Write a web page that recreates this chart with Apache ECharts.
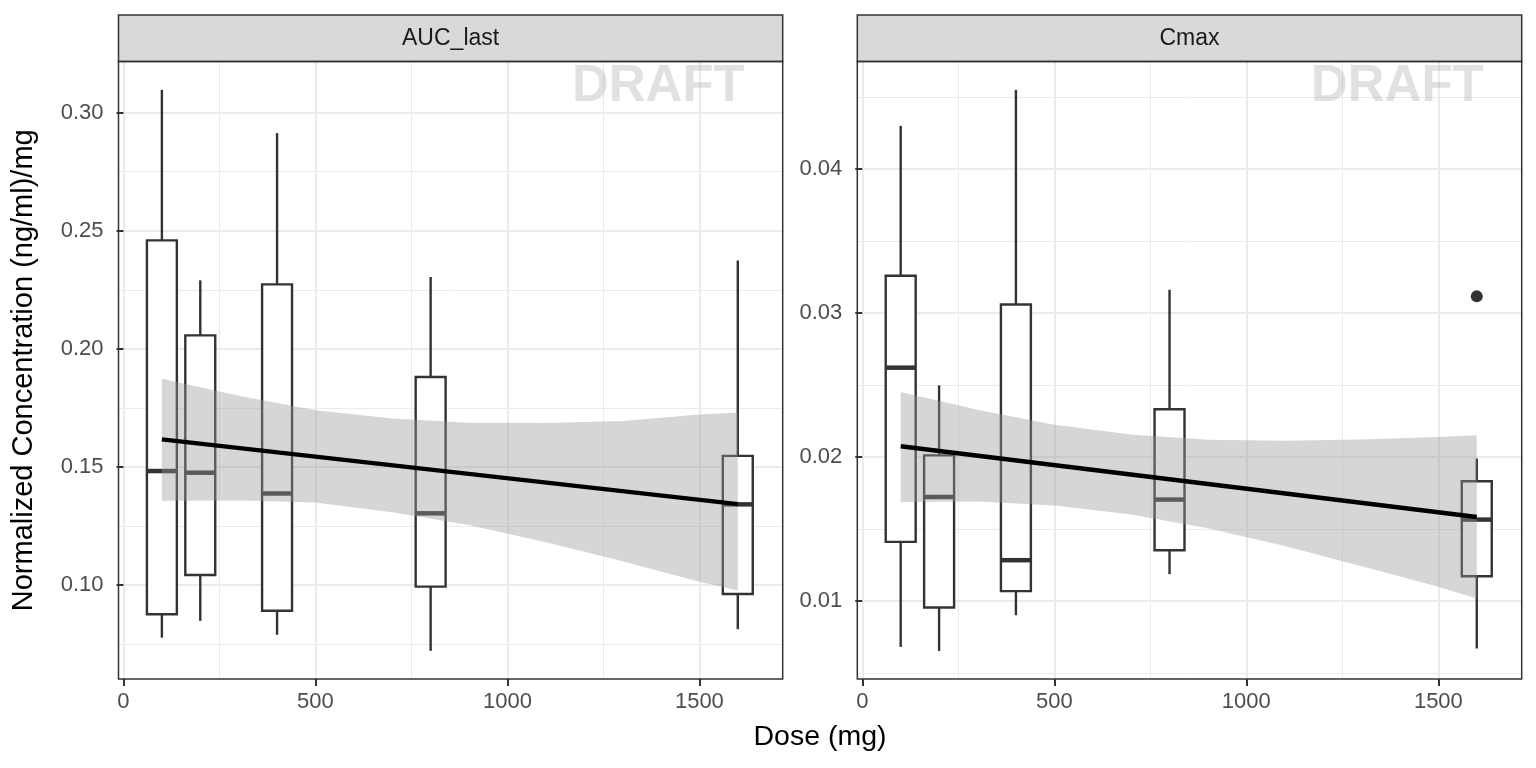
<!DOCTYPE html>
<html>
<head>
    <meta charset="utf-8" />
    <title>Dose normalized exposure</title>
    <script src="https://cdn.jsdelivr.net/npm/echarts@6/dist/echarts.min.js"></script>
    <style type="text/css">
        html, body { margin: 0; padding: 0; background: #ffffff; }
        #chart { width: 1536px; height: 768px; }
    </style>
</head>
<body>
    <div id="chart"></div>
    <script>
        // dose groups (mg)
        const doses = [100, 200, 400, 800, 1600];

        // box stats per dose: [lower whisker, Q1, median, Q3, upper whisker]
        const aucStats = [
            [0.0778, 0.0877, 0.1483, 0.2459, 0.3096],
            [0.0849, 0.1043, 0.1476, 0.2057, 0.2290],
            [0.0790, 0.0892, 0.1388, 0.2273, 0.2913],
            [0.0722, 0.0994, 0.1304, 0.1881, 0.2304],
            [0.0814, 0.0963, 0.1342, 0.1547, 0.2374]
        ];
        const cmaxStats = [
            [0.00680, 0.01409, 0.02619, 0.03257, 0.04298],
            [0.00652, 0.00953, 0.01721, 0.02010, 0.02496],
            [0.00900, 0.01067, 0.01282, 0.03058, 0.04548],
            [0.01185, 0.01351, 0.01703, 0.02330, 0.03160],
            [0.00669, 0.01171, 0.01564, 0.01830, 0.01988]
        ];
        const cmaxOutliers = [[1600, 0.03114]];

        // linear fit and its confidence band
        const fitX = [100, 1600];
        const aucFit = [0.1617, 0.1343];
        const cmaxFit = [0.02073, 0.01582];

        const ribX = [100, 300, 500, 700, 900, 1100, 1300, 1500, 1600];
        const aucRibLo = [0.1357, 0.1358, 0.1350, 0.1309, 0.1255, 0.1182, 0.1101, 0.1015, 0.0977];
        const aucRibHi = [0.1874, 0.1802, 0.1740, 0.1705, 0.1687, 0.1686, 0.1695, 0.1722, 0.1731];
        const cmaxRibLo = [0.01686, 0.01690, 0.01662, 0.01600, 0.01503, 0.01380, 0.01240, 0.01097, 0.01016];
        const cmaxRibHi = [0.02450, 0.02326, 0.02222, 0.02154, 0.02119, 0.02112, 0.02120, 0.02137, 0.02149];

        // ticks
        const xTicks = [0, 500, 1000, 1500];
        const xMinor = [250, 750, 1250];
        const aucTicks = [0.10, 0.15, 0.20, 0.25, 0.30];
        const aucMinor = [0.075, 0.125, 0.175, 0.225, 0.275];
        const cmaxTicks = [0.01, 0.02, 0.03, 0.04];
        const cmaxMinor = [0.005, 0.015, 0.025, 0.035, 0.045];

        const panelNames = ['AUC_last', 'Cmax'];

        const FONT = '"Liberation Sans", Arial, Helvetica, sans-serif';
        const BOX_HALF = 39;   // half box width in mg
        const panels = [
            { left: 118.5, top: 61.5, width: 664.2, height: 617.5 },
            { left: 857.3, top: 61.5, width: 664.4, height: 617.5 }
        ];
        const xRange = [-13, 1717];
        const yRanges = [[0.0603, 0.3216], [0.00457, 0.04745]];

        const chart = echarts.init(document.getElementById('chart'));

        function majorX(grid) {
            return {
                type: 'value', gridIndex: grid, min: xRange[0], max: xRange[1],
                axisLine: { show: false },
                axisTick: { show: true, length: 7, customValues: xTicks, lineStyle: { color: '#333333', width: 2 } },
                axisLabel: {
                    customValues: xTicks, color: '#4d4d4d', fontSize: 22, fontFamily: FONT, margin: 12,
                    formatter: (v) => String(v)
                },
                splitLine: { show: true, lineStyle: { color: '#ebebeb', width: 2 } }
            };
        }
        function minorX(grid) {
            return {
                type: 'value', gridIndex: grid, min: xRange[0], max: xRange[1],
                axisLine: { show: false },
                axisTick: { show: false, customValues: xMinor },
                axisLabel: { show: false },
                splitLine: { show: true, lineStyle: { color: '#ebebeb', width: 1 } }
            };
        }
        function majorY(grid, ticks, range, name) {
            return {
                type: 'value', gridIndex: grid, min: range[0], max: range[1], position: 'left',
                name: name || '', nameLocation: 'middle', nameGap: 80,
                nameTextStyle: { color: '#000000', fontSize: 29, fontFamily: FONT },
                axisLine: { show: false },
                axisTick: { show: true, length: 7, customValues: ticks, lineStyle: { color: '#333333', width: 2 } },
                axisLabel: {
                    customValues: ticks, color: '#4d4d4d', fontSize: 22, fontFamily: FONT, margin: 15,
                    formatter: (v) => v.toFixed(2)
                },
                splitLine: { show: true, lineStyle: { color: '#ebebeb', width: 2 } }
            };
        }
        function minorY(grid, ticks, range) {
            return {
                type: 'value', gridIndex: grid, min: range[0], max: range[1], position: 'left',
                axisLine: { show: false },
                axisTick: { show: false, customValues: ticks },
                axisLabel: { show: false },
                splitLine: { show: true, lineStyle: { color: '#ebebeb', width: 1 } }
            };
        }

        function renderBox(params, api) {
            const x = api.value(0);
            const lo = api.coord([x, api.value(1)]);
            const q1 = api.coord([x, api.value(2)]);
            const med = api.coord([x, api.value(3)]);
            const q3 = api.coord([x, api.value(4)]);
            const hi = api.coord([x, api.value(5)]);
            const hw = api.size([BOX_HALF, 0])[0];
            const cx = lo[0];
            const line = { stroke: '#333333', lineWidth: 2.4 };
            return {
                type: 'group',
                children: [
                    { type: 'line', shape: { x1: cx, y1: hi[1], x2: cx, y2: q3[1] }, style: line },
                    { type: 'line', shape: { x1: cx, y1: q1[1], x2: cx, y2: lo[1] }, style: line },
                    {
                        type: 'rect',
                        shape: { x: cx - hw, y: q3[1], width: 2 * hw, height: q1[1] - q3[1] },
                        style: { stroke: '#333333', fill: '#ffffff', lineWidth: 2.4 }
                    },
                    { type: 'line', shape: { x1: cx - hw, y1: med[1], x2: cx + hw, y2: med[1] }, style: { stroke: '#333333', lineWidth: 4.5 } }
                ]
            };
        }

        function ribbonRenderer(lo, hi) {
            return function (params, api) {
                const pts = [];
                for (let i = 0; i < ribX.length; i++) pts.push(api.coord([ribX[i], hi[i]]));
                for (let i = ribX.length - 1; i >= 0; i--) pts.push(api.coord([ribX[i], lo[i]]));
                return { type: 'polygon', shape: { points: pts }, style: { fill: 'rgba(153,153,153,0.4)' } };
            };
        }

        function panelSeries(p, stats, lo, hi, fit) {
            const xi = p * 2, yi = p * 2;
            return [
                {
                    type: 'custom', xAxisIndex: xi, yAxisIndex: yi, z: 2,
                    renderItem: renderBox,
                    encode: { x: 0, y: [1, 2, 3, 4, 5] },
                    data: doses.map((d, i) => [d].concat(stats[i]))
                },
                {
                    type: 'custom', xAxisIndex: xi, yAxisIndex: yi, z: 3,
                    renderItem: ribbonRenderer(lo, hi),
                    encode: { x: 0, y: 1 },
                    data: [[ribX[0], lo[0]]]
                },
                {
                    type: 'line', xAxisIndex: xi, yAxisIndex: yi, z: 4,
                    symbol: 'none', lineStyle: { color: '#000000', width: 4.5 },
                    data: fitX.map((x, i) => [x, fit[i]])
                }
            ];
        }

        const graphics = [];
        panels.forEach((g, i) => {
            graphics.push({
                type: 'rect', z: 10,
                shape: { x: g.left, y: 15, width: g.width, height: g.top - 15 },
                style: { fill: '#d9d9d9', stroke: '#333333', lineWidth: 1.5 }
            });
            graphics.push({
                type: 'text', z: 11, x: g.left + g.width / 2, y: 38.5,
                style: { text: panelNames[i], fill: '#1a1a1a', font: '23px ' + FONT, align: 'center', verticalAlign: 'middle' }
            });
            graphics.push({
                type: 'rect', z: 10,
                shape: { x: g.left, y: g.top, width: g.width, height: g.height },
                style: { fill: null, stroke: '#333333', lineWidth: 1.5 }
            });
            graphics.push({
                type: 'text', z: 1, x: g.left + g.width - 38, y: 87,
                style: { text: 'DRAFT', fill: 'rgba(128,128,128,0.24)', font: 'bold 51px ' + FONT, align: 'right', verticalAlign: 'middle' }
            });
        });
        graphics.push({
            type: 'text', z: 11, x: 820, y: 737,
            style: { text: 'Dose (mg)', fill: '#000000', font: '28.5px ' + FONT, align: 'center', verticalAlign: 'middle' }
        });

        const option = {
            animation: false,
            backgroundColor: '#ffffff',
            grid: panels.map(g => ({ left: g.left, top: g.top, width: g.width, height: g.height, show: false })),
            xAxis: [majorX(0), minorX(0), majorX(1), minorX(1)],
            yAxis: [
                majorY(0, aucTicks, yRanges[0], 'Normalized Concentration (ng/ml)/mg'),
                minorY(0, aucMinor, yRanges[0]),
                majorY(1, cmaxTicks, yRanges[1]),
                minorY(1, cmaxMinor, yRanges[1])
            ],
            graphic: graphics,
            series: panelSeries(0, aucStats, aucRibLo, aucRibHi, aucFit)
                .concat(panelSeries(1, cmaxStats, cmaxRibLo, cmaxRibHi, cmaxFit))
                .concat([{
                    type: 'scatter', xAxisIndex: 2, yAxisIndex: 2, z: 2,
                    symbol: 'circle', symbolSize: 12,
                    itemStyle: { color: '#333333', opacity: 1 },
                    data: cmaxOutliers
                }])
        };

        chart.setOption(option);
    </script>
</body>
</html>
